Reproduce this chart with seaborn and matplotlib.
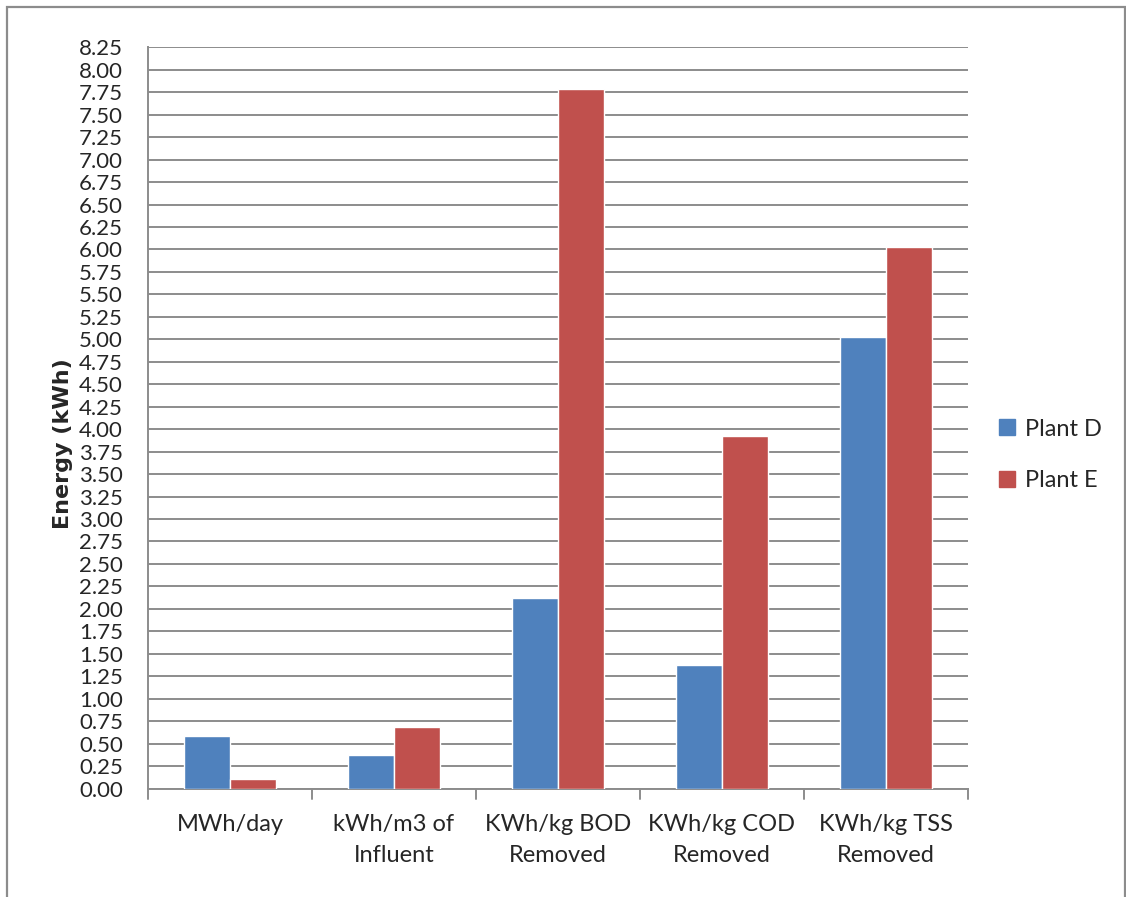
import matplotlib
matplotlib.use("Agg")
import matplotlib.pyplot as plt
import matplotlib.patches as mpatches
import numpy as np
import pandas as pd
import seaborn as sns

categories = ["MWh/day", "kWh/m3 of\nInfluent", "KWh/kg BOD\nRemoved",
              "KWh/kg COD\nRemoved", "KWh/kg TSS\nRemoved"]
plant_d = [0.58, 0.37, 2.12, 1.37, 5.03]
plant_e = [0.11, 0.68, 7.79, 3.92, 6.03]
series_names = ["Plant D", "Plant E"]
y_ticks = np.arange(0, 8.26, 0.25)

df = pd.DataFrame({
    "category": categories * 2,
    "value": plant_d + plant_e,
    "plant": [series_names[0]] * len(categories) + [series_names[1]] * len(categories),
})

sns.set_style("white")
plt.rcParams["font.family"] = ["Lato", "DejaVu Sans"]

W, H = 1126, 897
fig = plt.figure(figsize=(W / 100, H / 100), dpi=100)
ax = fig.add_axes([148 / W, 1 - 788.5 / H, (968 - 148) / W, (788.5 - 47.3) / H])

grid_color = "#8c8c8c"
palette = {"Plant D": "#4F81BD", "Plant E": "#C0504D"}
sns.barplot(data=df, x="category", y="value", hue="plant", order=categories,
            hue_order=series_names, palette=palette, width=0.56,
            saturation=1, ax=ax, legend=False, zorder=3)

ax.set_ylim(0, 8.25)
ax.set_xlim(-0.5, len(categories) - 0.5)
ax.set_yticks(y_ticks)
ax.set_yticklabels([f"{v:.2f}" for v in y_ticks], fontsize=16)
ax.yaxis.grid(True, color=grid_color, linewidth=1.4, zorder=0)
ax.set_axisbelow(True)

ax.set_xticks(range(len(categories)))
ax.set_xticklabels(categories, fontsize=17, linespacing=1.62)
ax.tick_params(axis="x", length=0, pad=18)
ax.tick_params(axis="y", length=6, width=1.4, color=grid_color, direction="out", pad=12)

# category separators on the x axis
for b in np.arange(-0.5, len(categories), 1.0):
    ax.plot([b, b], [0, -0.12], color=grid_color, lw=1.4, clip_on=False, zorder=4)

for side in ["top", "right"]:
    ax.spines[side].set_visible(False)
for side in ["left", "bottom"]:
    ax.spines[side].set_color(grid_color)
    ax.spines[side].set_linewidth(1.4)

ax.set_xlabel("")
ax.set_ylabel("")
fig.text(63 / W, 1 - 444 / H, "Energy (kWh)", rotation=90, ha="center", va="center",
         fontsize=16, fontweight="bold", family=["DejaVu Sans"])

handles = [mpatches.Patch(color=palette[n], label=n) for n in series_names]
fig.legend(handles=handles, loc="center left", bbox_to_anchor=(978 / W, 1 - 455 / H),
           frameon=False, fontsize=17, handlelength=0.65, handleheight=0.65,
           handletextpad=0.45, labelspacing=1.3)

# outer chart border
fig.patches.append(mpatches.Rectangle((7 / W, -0.01), 1 - 8 / W, 1 - 7 / H + 0.01,
                                      transform=fig.transFigure, fill=False,
                                      edgecolor=grid_color, linewidth=1.6))

fig.savefig("out.png", dpi=100)
